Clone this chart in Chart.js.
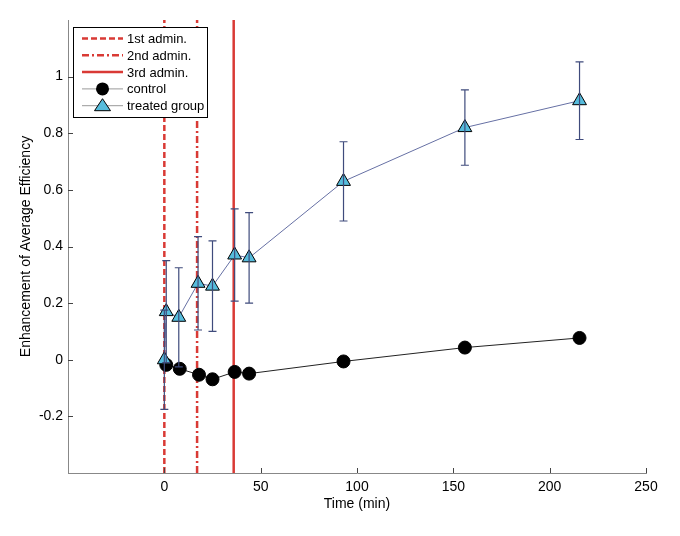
<!DOCTYPE html>
<html>
<head>
<meta charset="utf-8">
<script src="https://cdn.jsdelivr.net/npm/chart.js@4"></script>
<style>
html,body{margin:0;padding:0;background:#fff;}
#wrap{width:680px;height:536px;}
</style>
</head>
<body>
<div id="wrap"><canvas id="effChart" width="680" height="536"></canvas></div>
<script>
// data
const treatedTime = [0, 1, 7.5, 17.5, 25, 36.5, 44, 93, 156, 215.5];
const treatedMean = [0, 0.17, 0.15, 0.27, 0.26, 0.37, 0.36, 0.63, 0.82, 0.915];
const treatedErr  = [0.175, 0.18, 0.175, 0.165, 0.16, 0.163, 0.16, 0.14, 0.133, 0.137];

const controlTime = [1, 8, 18, 25, 36.5, 44, 93, 156, 215.5];
const controlMean = [-0.018, -0.032, -0.053, -0.069, -0.043, -0.049, -0.006, 0.043, 0.077];

const adminTime  = [0, 17, 36];
const adminLabel = ["1st admin.", "2nd admin.", "3rd admin."];
const adminDash  = [[6, 3], [7, 3, 2, 3], []];

const xTicks = [0, 50, 100, 150, 200, 250];
const yTicks = [-0.2, 0, 0.2, 0.4, 0.6, 0.8, 1];
const xMin = -50, xMax = 250, yMin = -0.4, yMax = 1.2;

const RED = "#d93a35";
const TRI = "#56bcdc";
const BAR = "#3f4b7c";
const FONT = "'Liberation Sans', Arial, sans-serif";

function pts(xs, ys){
  return xs.map((x, i) => ({x: x, y: ys[i]}));
}

let adminSets = adminTime.map((t, i) => ({
  label: adminLabel[i],
  type: "line",
  data: [{x: t, y: yMin}, {x: t, y: yMax}],
  borderColor: RED,
  borderWidth: 2.5,
  borderDash: adminDash[i],
  pointRadius: 0,
  order: 3
}));

// error bars + inner tick marks
const extras = {
  id: "extras",
  afterDatasetsDraw(chart){
    const ctx = chart.ctx;
    const xs = chart.scales.x, ys = chart.scales.y;
    ctx.save();
    ctx.strokeStyle = BAR;
    ctx.lineWidth = 1.2;
    for(let i = 0; i < treatedTime.length; i++){
      let px = xs.getPixelForValue(treatedTime[i]);
      let top = ys.getPixelForValue(treatedMean[i] + treatedErr[i]);
      let bot = ys.getPixelForValue(treatedMean[i] - treatedErr[i]);
      ctx.beginPath();
      ctx.moveTo(px, top); ctx.lineTo(px, bot);
      ctx.moveTo(px - 4, top); ctx.lineTo(px + 4, top);
      ctx.moveTo(px - 4, bot); ctx.lineTo(px + 4, bot);
      ctx.stroke();
    }
    ctx.restore();
  },
  afterDraw(chart){
    const ctx = chart.ctx;
    const a = chart.chartArea;
    const xs = chart.scales.x, ys = chart.scales.y;
    ctx.save();
    ctx.strokeStyle = "#444";
    ctx.lineWidth = 1;
    ctx.beginPath();
    xTicks.forEach(v => {
      let px = Math.round(xs.getPixelForValue(v)) + 0.5;
      ctx.moveTo(px, a.bottom); ctx.lineTo(px, a.bottom - 5);
    });
    yTicks.forEach(v => {
      let py = Math.round(ys.getPixelForValue(v)) + 0.5;
      ctx.moveTo(a.left, py); ctx.lineTo(a.left + 5, py);
    });
    ctx.stroke();

    // legend box
    const lx = 73, ly = 27, lw = 134, lh = 90;
    ctx.fillStyle = "#fff";
    ctx.fillRect(lx, ly, lw, lh);
    ctx.strokeStyle = "#000";
    ctx.strokeRect(lx + 0.5, ly + 0.5, lw, lh);
    ctx.font = "13px " + FONT;
    ctx.textBaseline = "middle";
    const names = adminLabel.concat(["control", "treated group"]);
    names.forEach((name, i) => {
      let cy = ly + 11.5 + i * 16.8;
      ctx.save();
      if(i < 3){
        ctx.strokeStyle = RED;
        ctx.lineWidth = 2.5;
        ctx.setLineDash(adminDash[i]);
      } else {
        ctx.strokeStyle = "#999";
        ctx.lineWidth = 1;
      }
      ctx.beginPath();
      ctx.moveTo(lx + 9, cy); ctx.lineTo(lx + 50, cy);
      ctx.stroke();
      ctx.restore();
      if(i === 3){
        ctx.fillStyle = "#000";
        ctx.beginPath();
        ctx.arc(lx + 29.5, cy, 6.5, 0, Math.PI * 2);
        ctx.fill();
      }
      if(i === 4){
        ctx.fillStyle = TRI;
        ctx.strokeStyle = "#000";
        ctx.beginPath();
        ctx.moveTo(lx + 29.5, cy - 7);
        ctx.lineTo(lx + 37.5, cy + 5);
        ctx.lineTo(lx + 21.5, cy + 5);
        ctx.closePath();
        ctx.fill(); ctx.stroke();
      }
      ctx.fillStyle = "#000";
      ctx.fillText(name, lx + 54, cy + 1);
    });
    ctx.restore();
  }
};

const chart = new Chart(document.getElementById("effChart"), {
  type: "scatter",
  data: {
    datasets: adminSets.concat([
      {
        label: "control",
        data: pts(controlTime, controlMean),
        showLine: true,
        borderColor: "#222",
        borderWidth: 1,
        pointRadius: 6.5,
        pointBackgroundColor: "#000",
        pointBorderColor: "#000",
        order: 2
      },
      {
        label: "treated group",
        data: pts(treatedTime, treatedMean),
        showLine: true,
        borderColor: "#6670a4",
        borderWidth: 1,
        pointStyle: "triangle",
        pointRadius: 8,
        pointBackgroundColor: TRI,
        pointBorderColor: "#000",
        pointBorderWidth: 1,
        order: 1
      }
    ])
  },
  options: {
    responsive: false,
    animation: false,
    layout: {padding: {left: 0, right: 34, top: 20, bottom: 0}},
    plugins: {legend: {display: false}, tooltip: {enabled: false}},
    scales: {
      x: {
        type: "linear",
        min: xMin, max: xMax,
        afterBuildTicks: s => { s.ticks = xTicks.map(v => ({value: v})); },
        afterFit: s => { s.height = 63; },
        grid: {drawOnChartArea: false, drawTicks: false},
        border: {color: "#888", width: 1},
        ticks: {color: "#000", padding: 6, font: {family: FONT, size: 14}, maxRotation: 0},
        title: {display: true, text: "Time (min)", color: "#000", font: {family: FONT, size: 14}, padding: {top: 0, bottom: 23}}
      },
      y: {
        type: "linear",
        min: yMin, max: yMax,
        afterBuildTicks: s => { s.ticks = yTicks.map(v => ({value: v})); },
        afterFit: s => { s.width = 68; },
        grid: {drawOnChartArea: false, drawTicks: false},
        border: {color: "#888", width: 1},
        ticks: {color: "#000", padding: 5, font: {family: FONT, size: 14},
          callback: v => String(Math.round(v * 10) / 10)},
        title: {display: true, text: "Enhancement of Average Efficiency", color: "#000", font: {family: FONT, size: 14}, padding: {top: 18, bottom: 0}}
      }
    }
  },
  plugins: [extras]
});
</script>
</body>
</html>
